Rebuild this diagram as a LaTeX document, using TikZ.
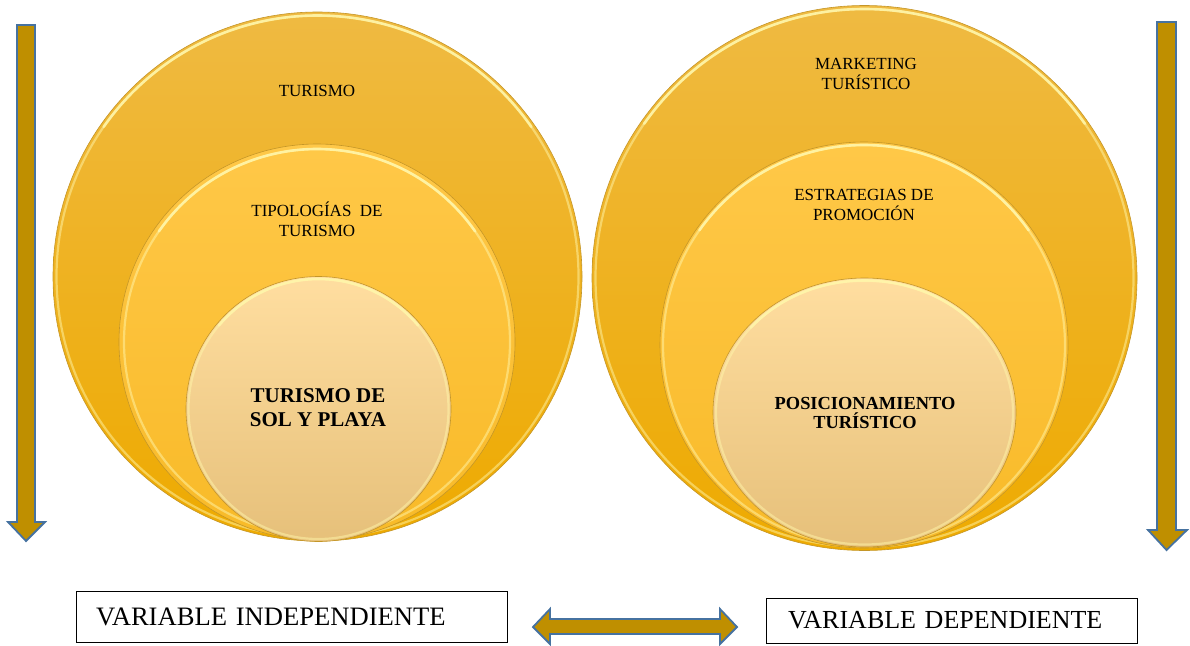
\documentclass[tikz,border=0pt]{standalone}
\usepackage{fontspec}
\setmainfont{Liberation Serif}
\usetikzlibrary{shapes.geometric}
\definecolor{bigtop}{RGB}{239,186,66}
\definecolor{bigbot}{RGB}{238,170,0}
\definecolor{midtop}{RGB}{255,200,72}
\definecolor{midbot}{RGB}{248,186,40}
\definecolor{intop}{RGB}{255,222,160}
\definecolor{inbot}{RGB}{230,192,122}
\definecolor{rimdark}{RGB}{196,150,40}
\definecolor{glowc}{RGB}{255,246,170}
\definecolor{arrowfill}{RGB}{191,143,0}
\definecolor{arrowline}{RGB}{70,114,160}
\begin{document}
\begin{tikzpicture}[x=1pt,y=-1pt,
  disc/.style={circle, draw=rimdark, line width=0.6pt, inner sep=0pt},
  oval/.style={ellipse, draw=rimdark, line width=0.6pt, inner sep=0pt},
  glow/.style={draw=glowc, line width=2.2pt, opacity=0.5},
  glowtop/.style={draw=glowc, line width=2.6pt, opacity=0.85, line cap=round},
  label/.style={align=center, font=\fontsize{17}{20}\selectfont, inner sep=0pt},
  core/.style={align=center, font=\bfseries\fontsize{21}{24}\selectfont, inner sep=0pt},
  varbox/.style={draw=black, line width=1pt, align=left, inner ysep=0pt},
  fatarrow/.style={fill=arrowfill, draw=arrowline, line width=1.8pt, line join=miter}
]
\useasboundingbox (0,0) rectangle (1190,645);

% left set of nested circles
\node[disc, minimum size=529pt, top color=bigtop, bottom color=bigbot] (turismo) at (317.5,276.5) {};
\draw[glow] (turismo.center) circle (261pt);
\draw[glowtop] (turismo.center) ++(35:261pt) arc[start angle=35, end angle=145, radius=261pt];
\node[disc, minimum size=396pt, top color=midtop, bottom color=midbot] (tipos) at (317,342) {};
\draw[glow] (tipos.center) circle (193pt);
\draw[glowtop] (tipos.center) ++(35:193pt) arc[start angle=35, end angle=145, radius=193pt];
\node[disc, minimum size=265pt, top color=intop, bottom color=inbot] (solplaya) at (318.5,409) {};
\draw[glow] (solplaya.center) circle (130pt);
\draw[glowtop] (solplaya.center) ++(40:130pt) arc[start angle=40, end angle=140, radius=130pt];

% right set of nested circles
\node[disc, minimum size=545pt, top color=bigtop, bottom color=bigbot] (marketing) at (864.5,278) {};
\draw[glow] (marketing.center) circle (269pt);
\draw[glowtop] (marketing.center) ++(35:269pt) arc[start angle=35, end angle=145, radius=269pt];
\node[oval, minimum width=408pt, minimum height=406pt, top color=midtop, bottom color=midbot] (estrategias) at (864,345) {};
\draw[glow] (estrategias.center) ellipse (201pt and 200pt);
\draw[glowtop] (estrategias.center) ++(35:201pt and 200pt) arc[start angle=35, end angle=145, x radius=201pt, y radius=200pt];
\node[oval, minimum width=303pt, minimum height=269pt, top color=intop, bottom color=inbot] (posicion) at (864.5,412.5) {};
\draw[glow] (posicion.center) ellipse (148.5pt and 132pt);
\draw[glowtop] (posicion.center) ++(40:148.5pt and 132pt) arc[start angle=40, end angle=140, x radius=148.5pt, y radius=132pt];

% circle texts
\node[label] (t1) at (317,91) {TURISMO};
\node[label] (t2) at (317,219) {TIPOLOGÍAS~ DE\\TURISMO};
\node[core] (t3) at (318,408) {TURISMO DE\\SOL Y PLAYA};
\node[label] (t4) at (866,74) {MARKETING\\TURÍSTICO};
\node[label] (t5) at (864,205) {ESTRATEGIAS DE\\PROMOCIÓN};
\node[core, font=\bfseries\fontsize{18.4}{19}\selectfont] (t6) at (865,413) {POSICIONAMIENTO\\TURÍSTICO};

% vertical arrows
\draw[fatarrow] (17,25) -- (35,25) -- (35,522) -- (45,522) -- (26,541) -- (8,522) -- (17,522) -- cycle;
\draw[fatarrow] (1157,22) -- (1176,22) -- (1176,530) -- (1187,530) -- (1166.5,550) -- (1148,530) -- (1157,530) -- cycle;

% variable boxes
\node[varbox, text width=391pt, inner xsep=20pt, minimum height=51pt,
  font=\fontsize{26.6}{30}\selectfont] (indep) at (291.5,616.5) {VARIABLE INDEPENDIENTE};
\node[varbox, text width=327pt, inner xsep=22pt, minimum height=45pt,
  font=\fontsize{26}{30}\selectfont] (dep) at (951.5,620.5) {VARIABLE DEPENDIENTE};

% double arrow between the boxes
\draw[fatarrow] (533,627) -- (550,609) -- (550,619) -- (720,619) -- (720,609) -- (737,627)
  -- (720,644) -- (720,634) -- (550,634) -- (550,644) -- cycle;
\end{tikzpicture}
\end{document}
